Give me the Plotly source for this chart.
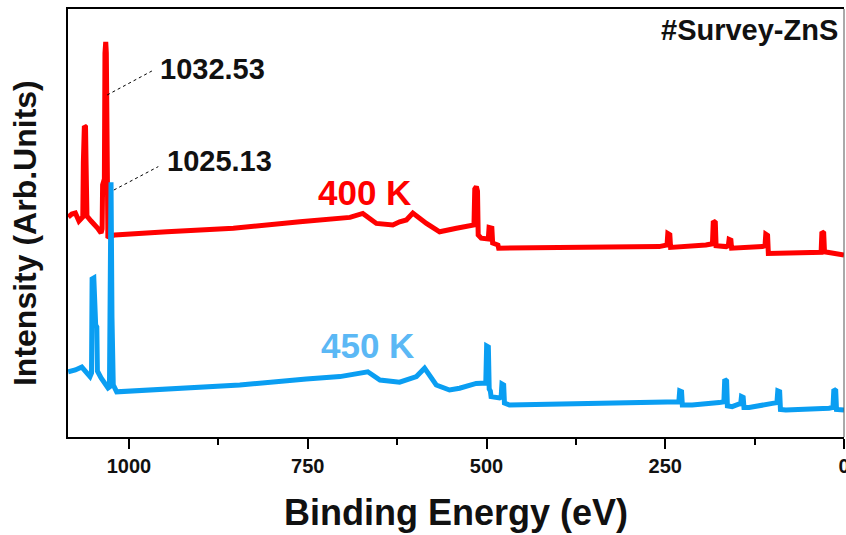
import plotly.graph_objects as go

# XPS survey spectra of ZnS films (binding energy in eV, intensity in arb. units)
peak_400 = 1032.53
peak_450 = 1025.13

be_400 = [1085, 1080, 1075, 1070, 1066, 1064.6, 1063.8, 1062.4, 1060.8, 1060.0, 1058.8,
          1053, 1048, 1044, 1039, 1037.6, 1036.9, 1034.4, 1033.6, peak_400, 1031.7, 1031.0,
          1030.2, 1029.5, 1026, 1020, 947, 854, 761, 691, 673, 654, 631, 621.5, 612, 603,
          584, 565.6, 542, 528, 517.5, 516.4, 514.2, 512.6, 511.6, 507.4, 497.5, 496.4,
          492.5, 491.4, 484.0, 483.0, 398, 314, 258.4, 247.5, 246.4, 243.6, 242.5,
          193.2, 184.0, 182.8, 180.0, 178.9, 171.5, 164.8, 161.8, 160.7, 158.2, 157.2,
          114.1, 110.5, 109.4, 106.9, 105.8, 39.5, 32.0, 30.9, 28.4, 27.3, 0]
int_400 = [55.0, 55.75, 56.0, 54.0, 54.75, 55.0, 68.75, 77.75, 77.5, 68.0, 55.25,
           54.0, 53.25, 52.25, 51.0, 52.0, 63.0, 64.5, 96.0, 98.75, 96.0, 64.0,
           50.5, 49.75, 50.25, 50.5, 51.3, 52.2, 53.8, 54.9, 55.9, 53.4, 53.0, 53.8, 54.25, 56.0,
           53.4, 51.3, 52.2, 52.75, 53.0, 62.0, 62.6, 61.5, 50.5, 49.7, 49.5, 52.4,
           52.2, 48.5, 48.0, 47.2, 47.25, 47.4, 47.6, 48.0, 50.9, 50.6, 47.4,
           48.0, 48.3, 54.0, 53.6, 47.8, 47.6, 47.6, 47.8, 49.4, 49.2, 47.2,
           47.6, 47.8, 50.7, 50.4, 45.9, 46.0, 46.2, 51.3, 51.0, 46.3, 45.5]

be_450 = [1085, 1075, 1066, 1060, 1054.5, 1052.4, 1051.6, 1049.2, 1048.2, 1046.6, 1045.0,
          1044.2, 1039, 1033.5, 1029.3, 1027.3, 1026.4, peak_450, 1023.8, 1022.9, 1022.0,
          1017.2, 938, 845, 752, 705, 666, 649, 621.5, 598, 586.6, 570.3, 551.7, 537.7,
          514.4, 501.0, 499.8, 497.4, 496.2, 494.6, 493.6, 481.8, 479.5, 478.4, 476.0,
          474.9, 467.9, 370, 272, 231.0, 229.8, 227.2, 226.1, 212.3, 174.6, 168.0, 166.8,
          164.2, 163.1, 156.4, 146.6, 144.5, 143.4, 141.0, 139.9, 132.7, 100.1, 93.8,
          92.6, 90.0, 88.9, 81.4, 20.9, 15.4, 14.2, 11.6, 10.5, 0]
int_450 = [16.3, 16.75, 17.5, 16.25, 15.1, 16.0, 39.5, 39.75, 30.0, 28.0, 27.5,
           16.5, 14.75, 13.0, 12.25, 12.5, 30.0, 63.7, 30.0, 14.0, 13.0,
           11.3, 12.2, 13.0, 14.5, 15.1, 16.3, 14.25, 13.7, 15.1, 17.2, 13.0, 11.75, 12.2,
           13.4, 13.5, 22.75, 22.5, 12.0, 11.5, 10.1, 9.75, 10.0, 13.25, 13.0,
           8.5, 8.0, 8.25, 8.8, 8.8, 11.5, 11.3, 8.0, 8.0, 8.6, 8.8, 14.4,
           14.0, 7.8, 7.6, 8.25, 8.3, 10.1, 9.9, 7.4, 7.4, 8.4, 8.6,
           11.5, 11.3, 6.9, 6.75, 7.2, 7.4, 11.9, 11.6, 6.9, 6.75]

x_ticks = [1000, 750, 500, 250, 0]

RED = "#FF0000"
BLUE = "#0A9EF2"
BLUE_TEXT = "#5BB8F5"
FONT = "Arial, Liberation Sans, sans-serif"

fig = go.Figure()
fig.add_trace(go.Scatter(x=be_400, y=int_400, mode="lines", name="400 K",
                         line=dict(color=RED, width=5)))
fig.add_trace(go.Scatter(x=be_450, y=int_450, mode="lines", name="450 K",
                         line=dict(color=BLUE, width=5)))

# dotted leader lines from the Zn 2p peaks to their labels
fig.add_shape(type="line", xref="x", yref="y", x0=peak_400 - 2, y0=85.5, x1=968, y1=91.5,
              line=dict(color="black", width=1, dash="dot"))
fig.add_shape(type="line", xref="x", yref="y", x0=peak_450 - 4, y0=61.75, x1=959, y1=67.6,
              line=dict(color="black", width=1, dash="dot"))
# thin right frame edge
fig.add_shape(type="line", xref="paper", yref="paper", x0=1, y0=0, x1=1, y1=1,
              line=dict(color="#555555", width=1))

fig.add_annotation(x=883, y=92, xref="x", yref="y", text=f"{peak_400:.2f}", showarrow=False,
                   font=dict(family=FONT, size=29, color="#111111", weight="bold"))
fig.add_annotation(x=874, y=69, xref="x", yref="y", text=f"{peak_450:.2f}", showarrow=False,
                   font=dict(family=FONT, size=29, color="#111111", weight="bold"))
fig.add_annotation(x=670, y=61.25, xref="x", yref="y", text="400 K", showarrow=False,
                   font=dict(family=FONT, size=35, color=RED, weight="bold"))
fig.add_annotation(x=666, y=22.9, xref="x", yref="y", text="450 K", showarrow=False,
                   font=dict(family=FONT, size=35, color=BLUE_TEXT, weight="bold"))
fig.add_annotation(x=0.995, y=0.951, xref="paper", yref="paper", xanchor="right",
                   yanchor="middle", text="#Survey-ZnS", showarrow=False,
                   font=dict(family=FONT, size=29, color="#111111", weight="bold"))
fig.add_annotation(x=-0.0554, y=0.4766, xref="paper", yref="paper", textangle=-90,
                   xanchor="center", yanchor="middle",
                   text="Intensity (Arb.Units)", showarrow=False,
                   font=dict(family=FONT, size=32, color="#111111", weight="bold"))

fig.update_layout(
    width=846, height=535,
    margin=dict(l=68, r=2, t=9, b=98, autoexpand=False),
    paper_bgcolor="white", plot_bgcolor="white",
    showlegend=False,
    xaxis=dict(
        range=[1085.3, 0], tickmode="array", tickvals=x_ticks,
        ticktext=[str(v) for v in x_ticks],
        ticks="outside", ticklen=10, tickwidth=2, tickcolor="black",
        ticklabeloverflow="allow", automargin=False,
        minor=dict(dtick=125, ticks="outside", ticklen=6, tickwidth=2, tickcolor="black"),
        showline=True, linecolor="black", linewidth=2, mirror=True,
        showgrid=False, zeroline=False,
        tickfont=dict(family=FONT, size=20, color="#111111", weight="bold"),
        title=dict(text="Binding Energy (eV)", standoff=24,
                   font=dict(family=FONT, size=36, color="#111111", weight="bold")),
    ),
    yaxis=dict(
        range=[0, 107], showticklabels=False, ticks="", automargin=False,
        showline=True, linecolor="black", linewidth=2,
        showgrid=False, zeroline=False,
    ),
)

fig.write_html("out.html")
